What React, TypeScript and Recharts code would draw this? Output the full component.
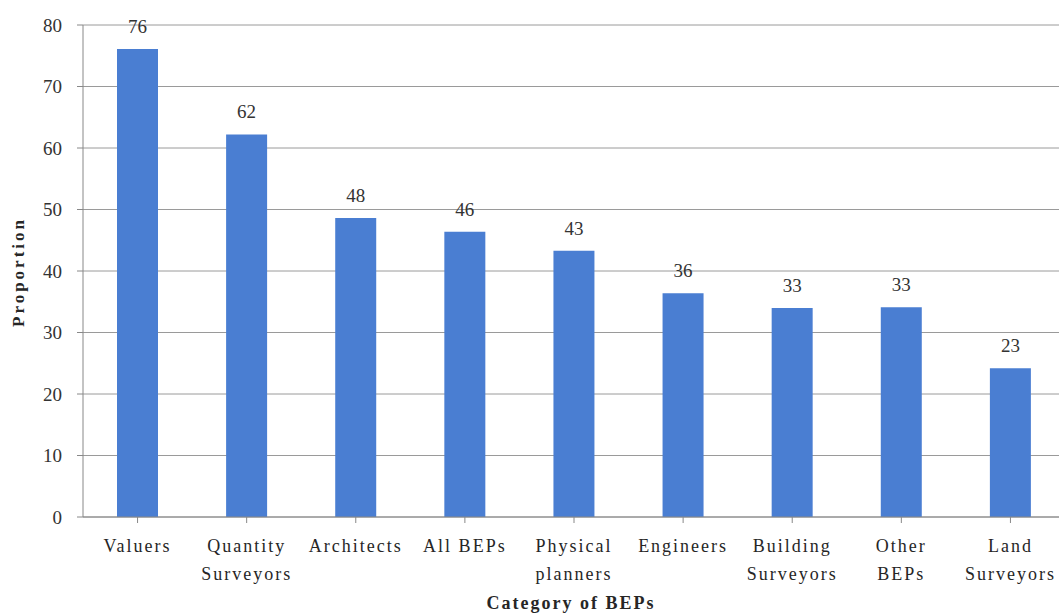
import { BarChart, Bar, XAxis, YAxis, CartesianGrid, LabelList, Label } from "recharts";

const categories = [
  "Valuers",
  "Quantity\nSurveyors",
  "Architects",
  "All BEPs",
  "Physical\nplanners",
  "Engineers",
  "Building\nSurveyors",
  "Other\nBEPs",
  "Land\nSurveyors",
];
const proportions = [76.1, 62.2, 48.6, 46.4, 43.3, 36.4, 34.0, 34.1, 24.2];
const shownLabels = [76, 62, 48, 46, 43, 36, 33, 33, 23];
const yTicks = [0, 10, 20, 30, 40, 50, 60, 70, 80];

const data = categories.map((c, i) => ({ name: c, value: proportions[i], label: shownLabels[i] }));

const FONT = '"Liberation Serif", "DejaVu Serif", serif';

function CatTick(props: any) {
  const { x, y, payload } = props;
  const lines = String(payload.value).split("\n");
  return (
    <g transform={`translate(${x},${y})`}>
      {lines.map((l, i) => (
        <text key={i} x={0} y={21 + i * 28} textAnchor="middle" fill="#262626" fontSize={18} letterSpacing={2} fontFamily={FONT} dominantBaseline="central">
          {l}
        </text>
      ))}
    </g>
  );
}

export default function App() {
  return (
    <div style={{ position: "fixed", left: 0, top: 0, width: 1059, height: 615, overflow: "hidden", background: "#fff" }}>
      <BarChart width={1080} height={615} data={data} margin={{ top: 25, right: 15, bottom: 0, left: 0 }} barSize={41}>
        <CartesianGrid vertical={false} stroke="#9a9a9a" />
        <XAxis
          dataKey="name"
          height={98}
          tick={<CatTick />}
          tickSize={6}
          stroke="#888"
          interval={0}
        >
          <Label
            content={() => (
              <text x={571} y={603} textAnchor="middle" dominantBaseline="central" fontSize={18} letterSpacing={2} fontWeight="bold" fontFamily={FONT} fill="#262626">
                Category of BEPs
              </text>
            )}
          />
        </XAxis>
        <YAxis
          width={83}
          domain={[0, 80]}
          ticks={yTicks}
          tickSize={6}
          tickMargin={15}
          stroke="#888"
          tick={{ fill: "#333", fontSize: 19, fontFamily: FONT }}
        >
          <Label
            content={() => (
              <text x={18} y={272} transform="rotate(-90 18 272)" textAnchor="middle" dominantBaseline="central" fontSize={17} letterSpacing={3} fontWeight="bold" fontFamily={FONT} fill="#262626">
                Proportion
              </text>
            )}
          />
        </YAxis>
        <Bar dataKey="value" fill="#4a7ed2" isAnimationActive={false}>
          <LabelList dataKey="label" position="top" offset={16} fill="#333" fontSize={19} fontFamily={FONT} />
        </Bar>
      </BarChart>
    </div>
  );
}
